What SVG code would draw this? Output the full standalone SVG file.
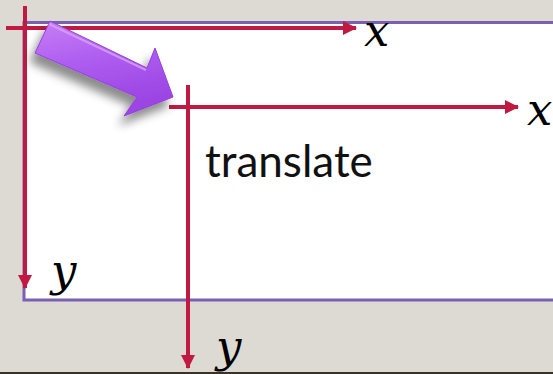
<svg xmlns="http://www.w3.org/2000/svg" width="553" height="374" viewBox="0 0 553 374">
<style>
.axis{stroke:#c01a42;stroke-width:4;fill:none}
.lbl{font-family:"DejaVu Serif","Liberation Serif",serif;font-style:italic;font-size:45px;fill:#000}
.txt{font-family:"Lato","Liberation Sans",sans-serif;font-size:44px;fill:#111}
</style>
<defs>
<marker id="ah" viewBox="0 0 14 14" refX="13" refY="7" markerWidth="14" markerHeight="14" markerUnits="userSpaceOnUse" orient="auto">
<path d="M0,0 L14,7 L0,14 Z" fill="#c01a42"/>
</marker>
<linearGradient id="pg" x1="0" y1="0" x2="0.3" y2="1">
<stop offset="0" stop-color="#c77ff6"/>
<stop offset="0.5" stop-color="#ad5cef"/>
<stop offset="1" stop-color="#9b44e3"/>
</linearGradient>
<filter id="sh" x="-30%" y="-30%" width="160%" height="180%">
<feDropShadow dx="-5" dy="9" stdDeviation="5" flood-color="#000" flood-opacity="0.45"/>
</filter>
</defs>
<rect x="0" y="0" width="553" height="374" fill="#dddad4"/>
<rect x="0" y="372" width="553" height="2" fill="#3b3126"/>
<g id="frame">
<rect x="24" y="22.5" width="540" height="277.5" fill="#ffffff" stroke="#7a5fb2" stroke-width="3"/>
</g>
<g id="connectors">
<line class="axis" x1="6" y1="28" x2="356" y2="28" marker-end="url(#ah)"/>
<line class="axis" x1="25" y1="6" x2="25" y2="288" marker-end="url(#ah)"/>
<line class="axis" x1="169" y1="107" x2="518" y2="107" marker-end="url(#ah)"/>
<line class="axis" x1="188" y1="85" x2="188" y2="368" marker-end="url(#ah)"/>
</g>
<g id="arrow">
<polygon points="50,21 147,68 155,48 173,97 124,116 137,97 35,53" fill="url(#pg)" stroke="#9340d8" stroke-width="1" stroke-linejoin="round" filter="url(#sh)"/>
<polyline points="49,24 146,70" fill="none" stroke="#d9a2fa" stroke-width="2" opacity="0.8"/>
</g>
<g id="labels">
<text class="lbl" x="364" y="46">x</text>
<text class="lbl" x="527" y="125">x</text>
<text class="lbl" x="51" y="286">y</text>
<text class="lbl" x="216" y="362">y</text>
<text class="txt" x="205" y="177">translate</text>
</g>
</svg>
